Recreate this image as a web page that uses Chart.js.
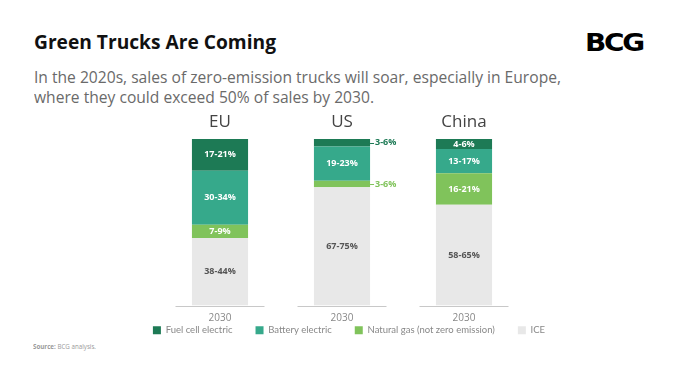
<!DOCTYPE html>
<html><head><meta charset="utf-8">
<script src="https://cdn.jsdelivr.net/npm/chart.js@4"></script>
<style>
html,body{margin:0;padding:0;width:680px;height:383px;overflow:hidden;background:#fff;font-family:"Open Sans",sans-serif;}
.t{position:absolute;white-space:nowrap;transform-origin:0 0;}
#title{left:34px;top:31px;font-size:19px;line-height:23px;font-weight:700;color:#111;}
#sub1{left:34px;top:66px;font-size:17px;line-height:22px;color:#6a6a6a;}
#sub2{left:34px;top:86px;font-size:17px;line-height:22px;color:#6a6a6a;}
#logo{left:585px;top:30px;font-size:25px;line-height:26px;font-weight:700;font-family:"DejaVu Sans",sans-serif;color:#000;letter-spacing:-2px;}
#src{left:33px;top:342px;font-size:7px;line-height:10px;color:#999;}
#chartbox{position:absolute;left:18px;top:104px;width:662px;height:266px;}
</style></head>
<body>
<div id="title" class="t" data-w="242">Green Trucks Are Coming</div>
<div id="sub1" class="t" data-w="527">In the 2020s, sales of zero-emission trucks will soar, especially in Europe,</div>
<div id="sub2" class="t" data-w="340">where they could exceed 50% of sales by 2030.</div>
<div id="logo" class="t" data-w="58">BCG</div>
<div id="src" class="t" data-w="63"><b>Source:</b> BCG analysis.</div>
<div id="chartbox"><canvas id="c" width="662" height="266"></canvas></div>
<script>
// ---- data ----
const regions = ["EU", "US", "China"];
const yearLabel = "2030";
const seriesNames = ["Fuel cell electric", "Battery electric", "Natural gas (not zero emission)", "ICE"];
const fuelCell = [19, 4.5, 6];
const battery = [32.5, 20.5, 14.5];
const naturalGas = [8, 4, 19];
const ice = [40.5, 71, 60.5];
const fuelCellLabels = ["17-21%", "3-6%", "4-6%"];
const batteryLabels = ["30-34%", "19-23%", "13-17%"];
const naturalGasLabels = ["7-9%", "3-6%", "16-21%"];
const iceLabels = ["38-44%", "67-75%", "58-65%"];
const fuelCellCallout = [false, true, false];
const naturalGasCallout = [false, true, false];

const colors = {fuel: "#1D7A55", battery: "#36A98B", gas: "#80C35B", ice: "#E8E8E8"};

function fitTexts() {
  document.querySelectorAll('.t[data-w]').forEach(el => {
    el.style.transform = 'none';
    const w = el.getBoundingClientRect().width;
    const target = parseFloat(el.dataset.w);
    if (w > 0) el.style.transform = 'scaleX(' + (target / w) + ')';
  });
}

const labelPlugin = {
  id: 'segLabels',
  afterDatasetsDraw(chart) {
    const ctx = chart.ctx;
    ctx.save();
    ctx.font = "bold 9px 'Open Sans', sans-serif";
    ctx.textBaseline = 'middle';
    chart.data.datasets.forEach((ds, di) => {
      const meta = chart.getDatasetMeta(di);
      meta.data.forEach((bar, i) => {
        const p = bar.getProps(['x', 'y', 'base', 'width'], true);
        const cy = (p.y + p.base) / 2;
        const txt = ds.rangeLabels[i];
        if (ds.callout && ds.callout[i]) {
          const x0 = p.x + p.width / 2;
          ctx.strokeStyle = ds.backgroundColor;
          ctx.lineWidth = 1;
          ctx.beginPath();
          ctx.moveTo(x0, Math.round(cy) + 0.5);
          ctx.lineTo(x0 + 4, Math.round(cy) + 0.5);
          ctx.stroke();
          ctx.fillStyle = ds.backgroundColor;
          ctx.textAlign = 'left';
          ctx.fillText(txt, x0 + 5, cy);
        } else {
          ctx.fillStyle = ds.labelColor;
          ctx.textAlign = 'center';
          ctx.fillText(txt, p.x, cy);
        }
      });
    });
    ctx.restore();
  }
};

const baselinePlugin = {
  id: 'baseSegs',
  afterLayout(chart) {
    // pull the legend row up close to the axis labels
    const L = chart.legend;
    if (L) { L.top -= 25; L.bottom -= 25; }
  },
  afterDatasetsDraw(chart) {
    const ctx = chart.ctx, xs = chart.scales.x, b = chart.chartArea.bottom;
    ctx.save();
    ctx.strokeStyle = '#C8C8C8';
    ctx.lineWidth = 1;
    regions.forEach((r, i) => {
      const px = xs.getPixelForValue(i);
      ctx.beginPath();
      ctx.moveTo(px - 44.5, Math.round(b) + 0.5);
      ctx.lineTo(px + 44.5, Math.round(b) + 0.5);
      ctx.stroke();
    });
    ctx.restore();
  }
};

function draw() {
  fitTexts();
  Chart.defaults.font.family = "'Open Sans', sans-serif";
  new Chart(document.getElementById('c'), {
    type: 'bar',
    data: {
      labels: regions,
      datasets: [
        {label: seriesNames[3], data: ice, backgroundColor: colors.ice, rangeLabels: iceLabels, labelColor: '#555'},
        {label: seriesNames[2], data: naturalGas, backgroundColor: colors.gas, rangeLabels: naturalGasLabels, labelColor: '#fff', callout: naturalGasCallout},
        {label: seriesNames[1], data: battery, backgroundColor: colors.battery, rangeLabels: batteryLabels, labelColor: '#fff'},
        {label: seriesNames[0], data: fuelCell, backgroundColor: colors.fuel, rangeLabels: fuelCellLabels, labelColor: '#fff', callout: fuelCellCallout}
      ]
    },
    options: {
      responsive: false,
      animation: false,
      devicePixelRatio: 1,
      layout: {padding: 0},
      datasets: {bar: {categoryPercentage: 1, barPercentage: 0.46, borderWidth: 0}},
      plugins: {
        legend: {
          position: 'bottom',
          reverse: true,
          labels: {boxWidth: 8, boxHeight: 8, padding: 23, color: '#888', font: {size: 9.5, family: "Lato, 'Open Sans', sans-serif"}}
        },
        tooltip: {enabled: false}
      },
      scales: {
        x: {
          stacked: true, offset: true,
          grid: {display: false, drawTicks: false}, border: {display: false},
          ticks: {callback: () => yearLabel, color: '#888', font: {size: 10}, padding: 7},
          afterFit(s) { s.height = 22; }
        },
        x2: {
          type: 'category', labels: regions, position: 'top', offset: true,
          grid: {display: false, drawTicks: false}, border: {display: false},
          ticks: {color: '#444', font: {size: 17}, padding: 7},
          afterFit(s) { s.height = 35; }
        },
        y: {
          stacked: true, min: 0, max: 100,
          grid: {display: false}, border: {display: false}, ticks: {display: false},
          afterFit(s) { s.width = 141; }
        },
        y2: {
          position: 'right',
          grid: {display: false}, border: {display: false}, ticks: {display: false},
          afterFit(s) { s.width = 155; }
        }
      }
    },
    plugins: [labelPlugin, baselinePlugin]
  });
}
if (document.fonts && document.fonts.ready) document.fonts.ready.then(draw); else draw();
</script>
</body></html>
